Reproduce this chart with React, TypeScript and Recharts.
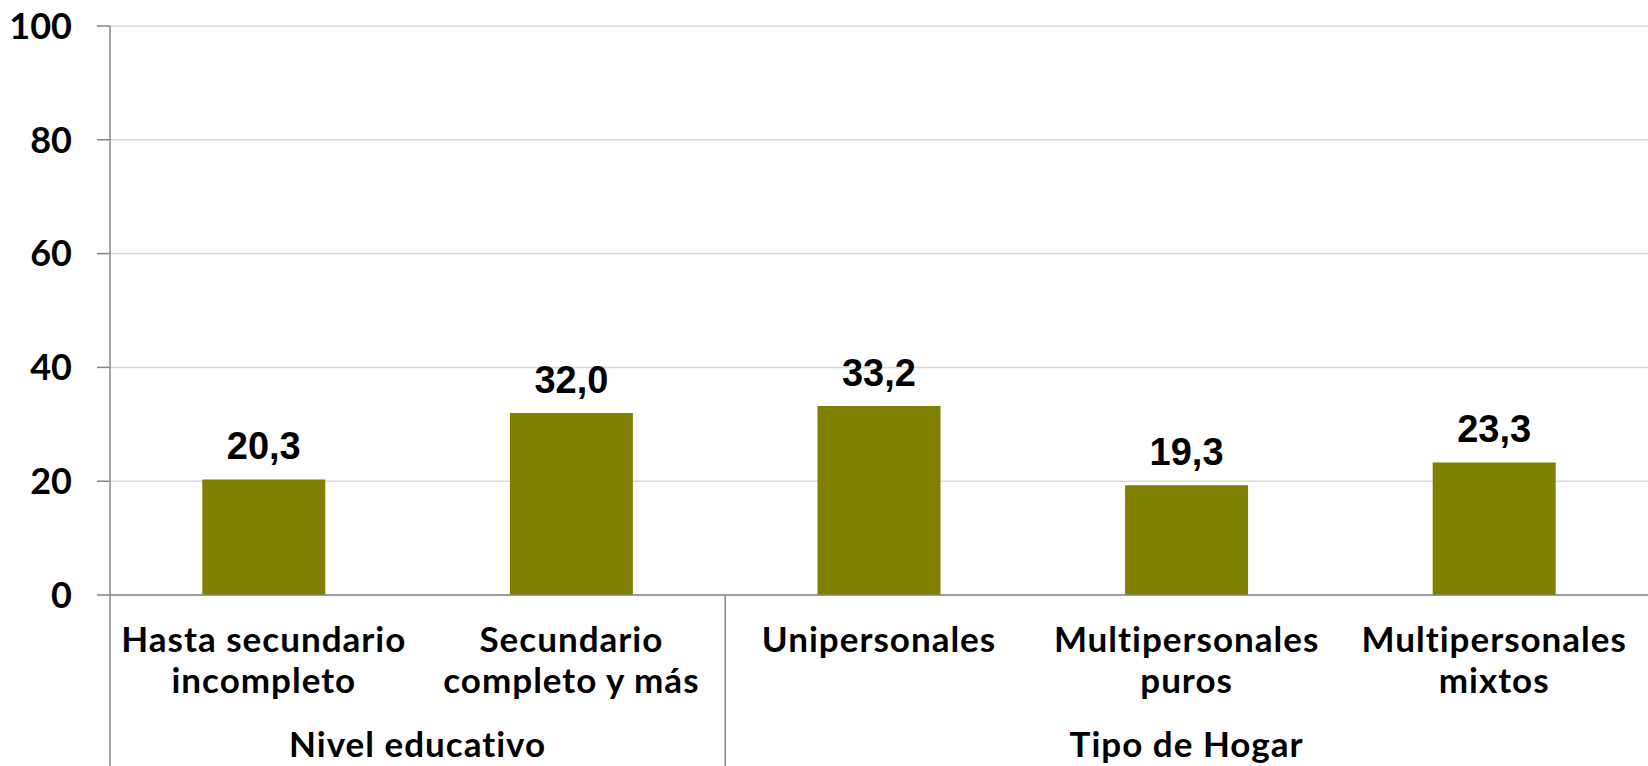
import React from 'react';
import { BarChart, Bar, XAxis, YAxis, CartesianGrid, LabelList } from 'recharts';

const categoryLine1 = ['Hasta secundario', 'Secundario', 'Unipersonales', 'Multipersonales', 'Multipersonales'];
const categoryLine2 = ['incompleto', 'completo y más', '', 'puros', 'mixtos'];
const groupNames = ['Nivel educativo', 'Nivel educativo', 'Tipo de Hogar', 'Tipo de Hogar', 'Tipo de Hogar'];
const values = [20.3, 32.0, 33.2, 19.3, 23.3];
const yTicks = [0, 20, 40, 60, 80, 100];

const W = 1648;
const H = 766;
const MARGIN = { top: 26, right: 0, bottom: 0, left: 0 };
const YAXIS_W = 110;
const XAXIS_H = 171;
const PLOT_W = W - MARGIN.left - MARGIN.right - YAXIS_W;

const data = categoryLine1.map((c, i) => ({
  key: String(i),
  line1: c,
  line2: categoryLine2[i],
  group: groupNames[i],
  value: values[i],
}));

const LABEL_FONT = 'Lato, "DejaVu Sans", sans-serif';
const AXIS_COLOR = '#868686';
const CAT_FONT_SIZE = 35;
const CAT_SPACING = 1;

const CategoryTick = (props: any) => {
  const { x, y, payload } = props;
  const i = Number(payload.value);
  const n = data.length;
  const band = PLOT_W / n;
  const d = data[i];
  const isGroupStart = i === 0 || data[i - 1].group !== d.group;
  let groupSize = 0;
  if (isGroupStart) {
    for (let j = i; j < n && data[j].group === d.group; j++) groupSize++;
  }
  const left = x - band / 2;
  const textProps = {
    textAnchor: 'middle' as const,
    fill: '#000',
    fontFamily: LABEL_FONT,
    fontSize: CAT_FONT_SIZE,
    fontWeight: 700,
    letterSpacing: CAT_SPACING,
  };
  return (
    <g>
      <text x={x} y={y + 57} {...textProps}>
        {d.line1}
      </text>
      {d.line2 ? (
        <text x={x} y={y + 98} {...textProps}>
          {d.line2}
        </text>
      ) : null}
      {isGroupStart ? (
        <g>
          <line x1={left} y1={y} x2={left} y2={y + XAXIS_H} stroke={AXIS_COLOR} strokeWidth={1.5} />
          <text x={left + (groupSize * band) / 2} y={y + 162} {...textProps}>
            {d.group}
          </text>
        </g>
      ) : null}
    </g>
  );
};

const fmt = (v: any) => Number(v).toFixed(1).replace('.', ',');

export default function App() {
  return (
    <div style={{ position: 'absolute', left: 0, top: 0, width: W, height: H, background: '#fff' }}>
      <BarChart width={W} height={H} data={data} margin={MARGIN} barCategoryGap="30%">
        <CartesianGrid vertical={false} stroke="#d9d9d9" strokeWidth={1.5} />
        <XAxis
          dataKey="key"
          height={XAXIS_H}
          tickLine={false}
          tickSize={0}
          tickMargin={0}
          axisLine={{ stroke: AXIS_COLOR, strokeWidth: 1.5 }}
          tick={<CategoryTick />}
          interval={0}
        />
        <YAxis
          width={YAXIS_W}
          domain={[0, 100]}
          ticks={yTicks}
          interval={0}
          tickSize={13}
          tickMargin={25}
          axisLine={{ stroke: AXIS_COLOR, strokeWidth: 1.5 }}
          tickLine={{ stroke: AXIS_COLOR, strokeWidth: 1.5 }}
          tick={{ fill: '#000', fontSize: 36, fontWeight: 700, fontFamily: LABEL_FONT }}
        />
        <Bar dataKey="value" fill="#808000" isAnimationActive={false}>
          <LabelList
            dataKey="value"
            position="top"
            offset={20}
            formatter={fmt}
            fill="#000"
            fontSize={38}
            fontWeight={700}
            fontFamily='"Liberation Sans", Arial, sans-serif'
          />
        </Bar>
      </BarChart>
    </div>
  );
}
